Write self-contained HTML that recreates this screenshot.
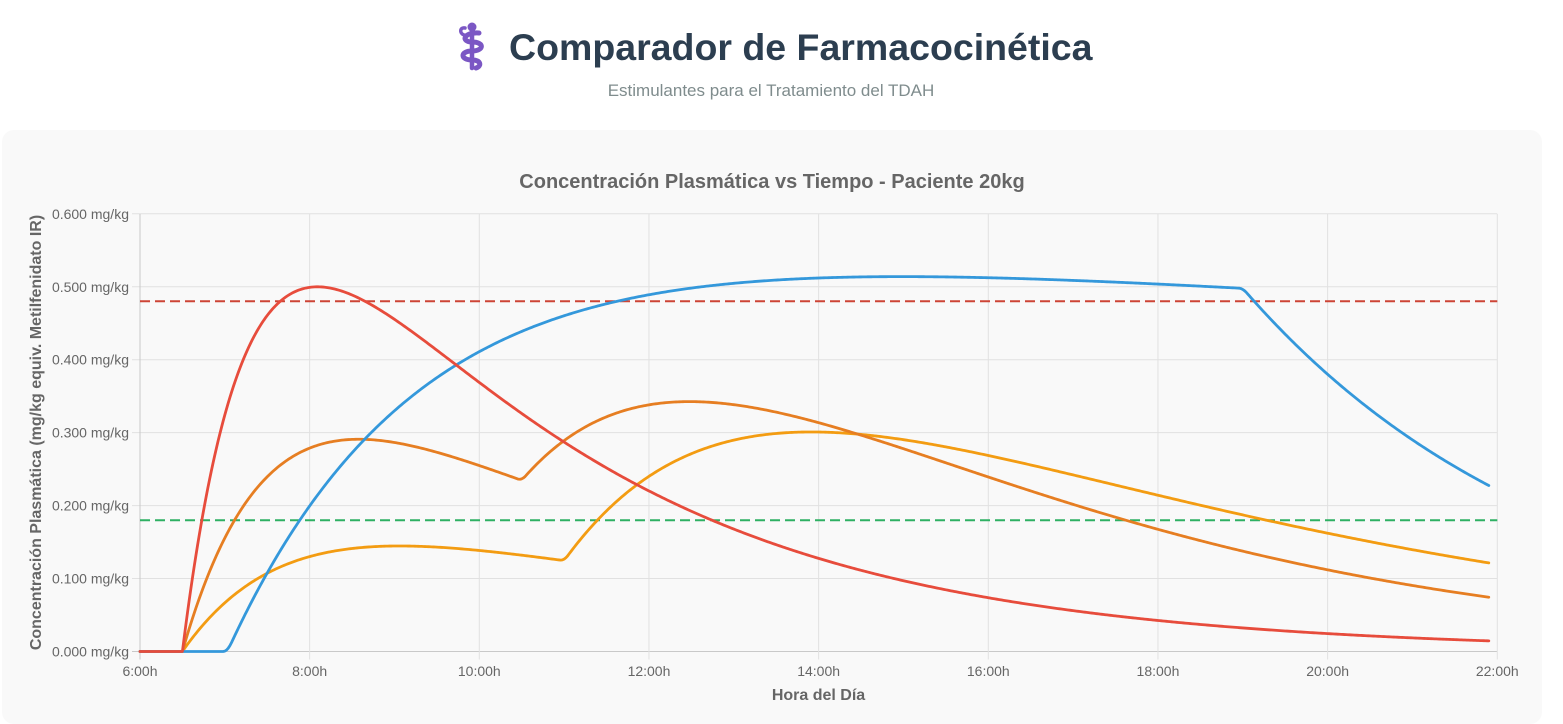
<!DOCTYPE html>
<html>
<head>
<meta charset="utf-8">
<style>
  html,body{margin:0;padding:0;background:#ffffff;}
  body{width:1563px;height:724px;overflow:hidden;position:relative;}
  svg{position:absolute;left:0;top:0;}
  .t{font-family:"Liberation Sans","DejaVu Sans",sans-serif;}
</style>
</head>
<body>
<svg id="s" width="1563" height="724" viewBox="0 0 1563 724" xmlns="http://www.w3.org/2000/svg">
  <!-- Header icon (staff of Aesculapius) -->
  <g stroke="#7b57c4" fill="none" stroke-linecap="round" stroke-linejoin="round">
    <line x1="472" y1="30" x2="472" y2="68" stroke-width="4.5"/>
    <path d="M479,33 C463,32 461,42 472,42 C485,42 484,51 472,51 C460,51 460,60 472,60 C481,60 482,66 476,68" stroke-width="5"/>
    <path d="M464,35 C459,33 460,27 465,28" stroke-width="3.5"/>
  </g>
  <circle cx="472" cy="27" r="4.5" fill="#7b57c4"/>

  <text class="t" x="509" y="60" font-size="37.5" font-weight="bold" fill="#2c3e50">Comparador de Farmacocinética</text>
  <text class="t" x="771" y="96" text-anchor="middle" font-size="17" fill="#7f8c8d">Estimulantes para el Tratamiento del TDAH</text>

  <!-- Card -->
  <rect x="2" y="130" width="1540" height="594" rx="12" ry="12" fill="#f9f9f9"/>

  <!-- Chart title -->
  <text class="t" x="772" y="188" text-anchor="middle" font-size="20" font-weight="bold" fill="#666666">Concentración Plasmática vs Tiempo - Paciente 20kg</text>

  <g id="grid"></g>
  <g id="labels" class="t"></g>

  <!-- Axis titles -->
  <text class="t" x="818.5" y="700" text-anchor="middle" font-size="16" font-weight="bold" fill="#666666">Hora del Día</text>
  <text class="t" transform="translate(41,432.5) rotate(-90)" x="0" y="0" text-anchor="middle" font-size="16" font-weight="bold" fill="#666666">Concentración Plasmática (mg/kg equiv. Metilfenidato IR)</text>

  <!-- Threshold lines -->
  <line x1="140" y1="301.3" x2="1497.3" y2="301.3" stroke="#cd4436" stroke-width="2" stroke-dasharray="10,5"/>
  <line x1="140" y1="520.2" x2="1497.3" y2="520.2" stroke="#2eb063" stroke-width="2" stroke-dasharray="10,5"/>

  <g id="series" fill="none" stroke-width="2.8" stroke-linejoin="round" stroke-linecap="round"></g>
</svg>
<script>
(function(){
  var NS="http://www.w3.org/2000/svg";
  var X0=140, PX=84.83, Y0=651.5, PY=729.5;
  function X(h){return X0+(h-6)*PX;}
  function Y(v){return Y0-v*PY;}
  function el(tag,attrs,parent,text){
    var e=document.createElementNS(NS,tag);
    for(var k in attrs)e.setAttribute(k,attrs[k]);
    if(text!==undefined)e.textContent=text;
    parent.appendChild(e);return e;
  }
  var grid=document.getElementById('grid');
  var labels=document.getElementById('labels');
  for(var i=0;i<=6;i++){
    var y=Y(i/10);
    var col=(i===0)?'#c9c9c9':'#e1e1e1';
    el('line',{x1:132,y1:y,x2:1497.3,y2:y,stroke:col,'stroke-width':1},grid);
    el('text',{x:129,y:y+5,'text-anchor':'end','font-size':14,fill:'#666666'},labels,(i/10).toFixed(3)+' mg/kg');
  }
  for(var j=0;j<=8;j++){
    var h=6+2*j, x=X(h);
    var colv=(j===0)?'#c9c9c9':'#e1e1e1';
    el('line',{x1:x,y1:214,x2:x,y2:659.5,stroke:colv,'stroke-width':1},grid);
    el('text',{x:x,y:676,'text-anchor':'middle','font-size':14,fill:'#666666'},labels,h+':00h');
  }
  function bate(t,A,ka,ke){return t<=0?0:A*(Math.exp(-ke*t)-Math.exp(-ka*t));}
  function red(h){return bate(h-6.5,1.005,1.2,0.275);}
  function orange(h){return bate(h-6.5,0.638,0.87,0.23)+bate(h-10.5,1.18,0.40,0.25);}
  function yellow(h){return bate(h-6.5,0.289,0.75,0.17)+bate(h-11,0.68,0.43,0.17);}
  function blueRaw(h){return bate(h-7.03,0.5994,0.44,0.015);}
  var b19=blueRaw(19);
  function blue(h){return h<=19?blueRaw(h):b19*Math.exp(-0.27*(h-19));}
  var series=document.getElementById('series');
  function draw(fn,color,smooth){
    var step=0.02, hs=[], vs=[];
    for(var h=6;h<=21.9001;h+=step){hs.push(h);vs.push(fn(h));}
    var out=[];
    for(var k=0;k<vs.length;k++){
      var v=vs[k];
      if(smooth && k>=2 && k<vs.length-2 && hs[k]>6.7){
        v=(vs[k-2]+vs[k-1]+vs[k]+vs[k+1]+vs[k+2])/5;
      }
      out.push(X(hs[k]).toFixed(2)+','+Y(v).toFixed(2));
    }
    el('polyline',{points:out.join(' '),stroke:color},series);
  }
  draw(yellow,'#f39c12',true);
  draw(orange,'#e67e22',true);
  draw(blue,'#3498db',true);
  draw(red,'#e74c3c',false);
})();
</script>
</body>
</html>
